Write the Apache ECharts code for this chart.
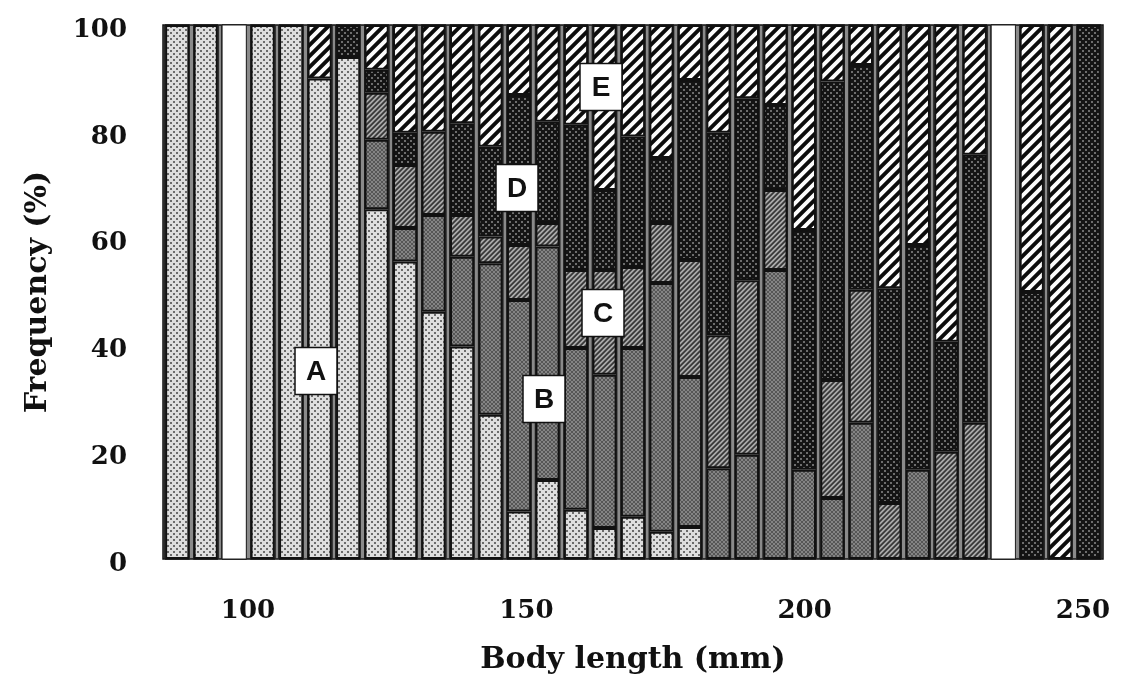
<!DOCTYPE html>
<html><head><meta charset="utf-8">
<script src="https://cdn.jsdelivr.net/npm/echarts@6/dist/echarts.min.js"></script>
<style>html,body{margin:0;padding:0;background:#fff}#chart{width:1121px;height:688px}</style>
</head><body><div id="chart"></div>
<script>
// Body-length bins (lower bound, mm), 5 mm wide
const lengthBins = [85,90,95,100,105,110,115,120,125,130,135,140,145,150,155,160,165,170,175,180,185,190,195,200,205,210,215,220,225,230,235,240,245];
// Frequency (%) of each class A–E per bin
const seriesA = [100,100,0,100,100,90,94,65.5,55.7,46.3,39.8,27,8.9,14.8,9.2,5.8,7.9,5.1,6,0,0,0,0,0,0,0,0,0,0,0,0,0,0];
const seriesB = [0,0,0,0,0,0,0,13,6.3,18.1,16.8,28.4,39.6,43.7,30.3,28.7,31.6,46.6,28.1,17,19.5,54.1,16.7,11.4,25.5,0,16.7,0,0,0,0,0,0];
const seriesC = [0,0,0,0,0,0,0,8.8,11.8,15.6,7.8,5,10.3,4.4,14.6,19.6,15.2,11.2,21.9,24.9,32.7,15,0,22.1,24.9,10.5,0,20.1,25.5,0,0,0,0];
const seriesD = [0,0,0,0,0,0,6,4.3,6,0,17.2,16.8,28.1,19,27.2,15,24.4,12.2,33.7,37.9,34.1,15.9,44.9,55.9,42.1,40.2,42.1,20.6,50.2,0,50,0,100];
const seriesE = [0,0,0,0,0,10,0,8.4,20.2,20,18.4,22.8,13.1,18.1,18.7,30.9,20.9,24.9,10.3,20.2,13.7,15,38.4,10.6,7.5,49.3,41.2,59.3,24.3,0,50,100,0];
const classNames = ['A','B','C','D','E'];
const xTickLabels = [100,150,200,250];
const yTickStep = 20;

function makeTile(w, h, fn) {
  const c = document.createElement('canvas');
  c.width = w; c.height = h;
  const ctx = c.getContext('2d');
  const img = ctx.createImageData(w, h);
  const S = 4;
  for (let y = 0; y < h; y++) for (let x = 0; x < w; x++) {
    let acc = 0;
    for (let sy = 0; sy < S; sy++) for (let sx = 0; sx < S; sx++) acc += fn(x + (sx + .5) / S, y + (sy + .5) / S);
    const v = Math.round(acc / (S * S));
    const k = (y * w + x) * 4;
    img.data[k] = img.data[k+1] = img.data[k+2] = v; img.data[k+3] = 255;
  }
  ctx.putImageData(img, 0, 0);
  return c;
}
function hexDist(x, y, P) {
  const dx = ((x % P) + P) % P, dy = ((y % P) + P) % P;
  const d1 = Math.min(Math.hypot(dx, dy), Math.hypot(P - dx, dy), Math.hypot(dx, P - dy), Math.hypot(P - dx, P - dy));
  const d2 = Math.hypot(dx - P / 2, dy - P / 2);
  return Math.min(d1, d2);
}
const tiles = {
  A: makeTile(6, 6, (x, y) => hexDist(x, y, 6) < 1.0 ? 80 : 222),
  B: makeTile(4, 4, (x, y) => hexDist(x, y, 4) < 0.9 ? 65 : 132),
  C: makeTile(5, 5, (x, y) => ((x + y) % 5) < 2.3 ? 55 : 170),
  D: makeTile(6, 6, (x, y) => hexDist(x, y, 6) < 0.9 ? 150 : 20),
  E: makeTile(11, 11, (x, y) => ((x + y) % 11) < 5.5 ? 12 : 252)
};

const allSeries = [seriesA, seriesB, seriesC, seriesD, seriesE];
const chart = echarts.init(document.getElementById('chart'), null, {renderer: 'canvas'});
const serif = '"DejaVu Serif", serif';

chart.setOption({
  animation: false,
  backgroundColor: '#fff',
  grid: {left: 163, right: 18, top: 25, bottom: 129, show: true, borderColor: '#111', borderWidth: 1.5, backgroundColor: '#8a8a8a'},
  xAxis: [
    {type: 'category', data: lengthBins, axisLine: {show: false}, axisTick: {show: false}, axisLabel: {show: false}, splitLine: {show: false}},
    {type: 'value', position: 'bottom', min: 100 - 85 / (835 / 150), max: 250 + 20 / (835 / 150),
     axisLine: {show: false}, axisTick: {show: false}, splitLine: {show: false},
     axisLabel: {customValues: xTickLabels, margin: 39, fontFamily: serif, fontWeight: 'bold', fontSize: 26, color: '#111'},
     name: 'Body length (mm)', nameLocation: 'middle', nameGap: 86,
     nameTextStyle: {fontFamily: serif, fontWeight: 'bold', fontSize: 30, color: '#111'}}
  ],
  yAxis: {type: 'value', min: 0, max: 100, interval: yTickStep,
    axisLine: {show: false}, axisTick: {show: false}, splitLine: {show: false},
    axisLabel: {margin: 36, verticalAlign: 'top', lineHeight: 10, fontFamily: serif, fontWeight: 'bold', fontSize: 26, color: '#111'},
    name: 'Frequency (%)', nameLocation: 'middle', nameGap: 110,
    nameTextStyle: {fontFamily: serif, fontWeight: 'bold', fontSize: 30, color: '#111'}},
  series: allSeries.map((arr, i) => ({
    name: classNames[i], type: 'bar', stack: 'total', xAxisIndex: 0,
    barCategoryGap: '15%',
    showBackground: true,
    backgroundStyle: {color: '#fff', borderColor: '#222', borderWidth: 1},
    data: arr.map(v => v > 0 ? v : null),
    itemStyle: {color: {image: tiles[classNames[i]], repeat: 'repeat'}, borderColor: '#111', borderWidth: 2}
  })),
  graphic: [
    ['A', 316, 371], ['B', 544, 399], ['C', 603, 313], ['D', 517, 188], ['E', 601, 87]
  ].map(([t, cx, cy]) => ({
    type: 'group', x: cx, y: cy, z: 100,
    children: [
      {type: 'rect', z: 100, shape: {x: -21, y: -23.5, width: 42, height: 47}, style: {fill: '#fff', stroke: '#111', lineWidth: 1.5}},
      {type: 'text', z: 101, style: {text: t, x: 0, y: 1, align: 'center', verticalAlign: 'middle', font: 'bold 28px "Liberation Sans", Arial, sans-serif', fill: '#111'}}
    ]
  }))
});
</script></body></html>
